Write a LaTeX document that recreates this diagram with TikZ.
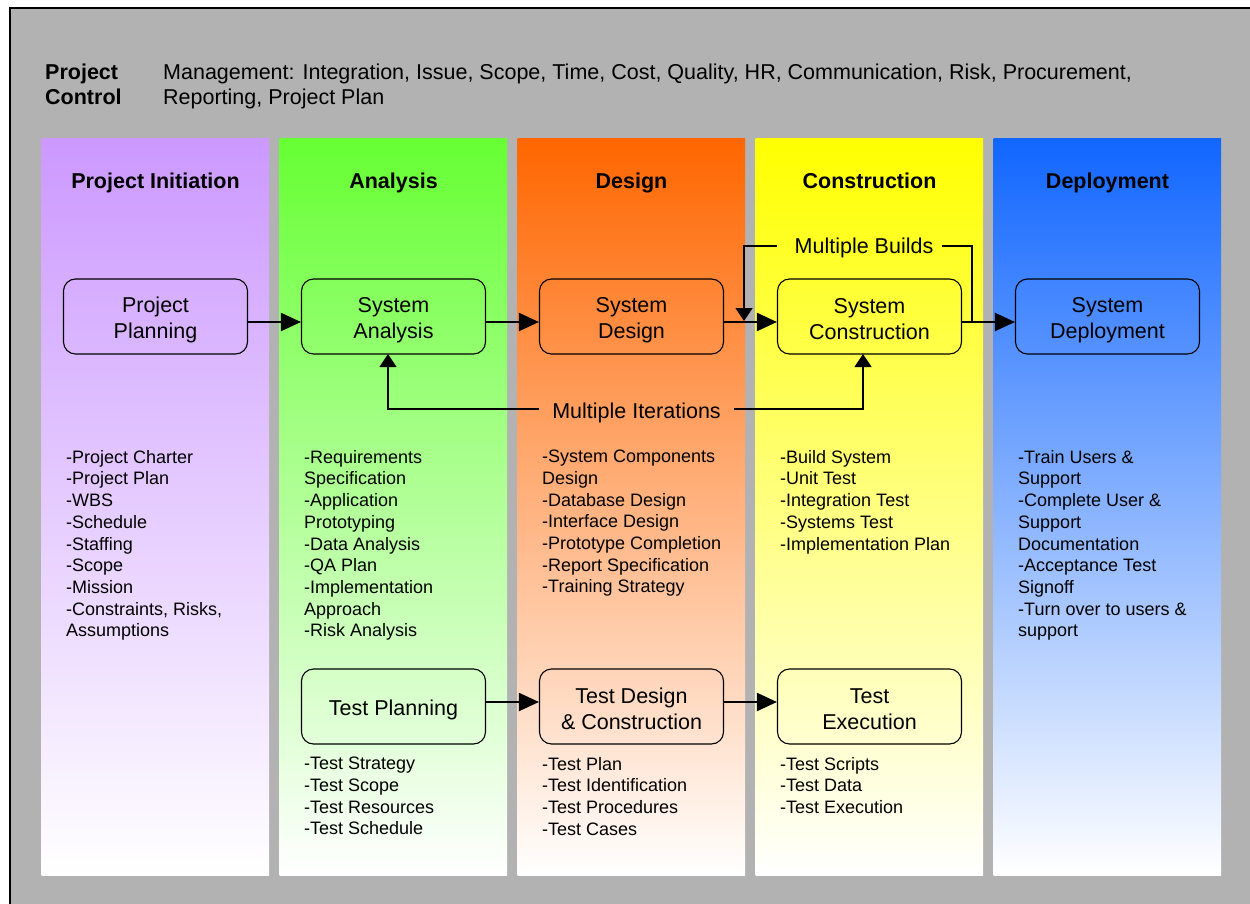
\documentclass[tikz,border=0pt]{standalone}
\usepackage{fontspec}
\setmainfont{Liberation Sans}
\usetikzlibrary{arrows.meta,calc}
\definecolor{bggray}{RGB}{178,178,178}
\definecolor{cpurple}{RGB}{204,153,255}
\definecolor{cgreen}{RGB}{102,255,51}
\definecolor{corange}{RGB}{255,102,0}
\definecolor{cyellow}{RGB}{255,255,0}
\definecolor{cblue}{RGB}{17,102,255}
\newcommand\bs{\rule[-1.8pt]{0pt}{24.2pt}}
\newcommand\boxfont{\fontsize{21.5}{26}\selectfont\lineskiplimit=-100pt\relax}
\begin{document}
\begin{tikzpicture}[x=1pt,y=-1pt,
  hdr/.style={font=\bfseries\fontsize{21.5}{24}\selectfont, inner sep=0, text height=15.5pt, text depth=0pt},
  box/.style={draw, line width=1.1pt, rounded corners=12pt, minimum width=184pt, minimum height=75pt, align=center, inner sep=0, font=\boxfont},
  lst/.style={anchor=north west, inner sep=0, align=left, font=\fontsize{18}{21.7}\selectfont},
  lbl/.style={font=\fontsize{21.5}{26}\selectfont, inner sep=0, text height=15.5pt, text depth=0pt},
  arr/.style={line width=2pt, -{Triangle[length=20pt,width=18pt]}},
  arrs/.style={line width=1.3pt, -{Triangle[length=13pt,width=17pt]}},
  con/.style={line width=1.3pt}]
\useasboundingbox (0,0) rectangle (1250,904);
\fill[bggray] (10,8) rectangle (1250,904);
\draw[line width=1.5pt] (10,904) -- (10,8) -- (1250,8);
% columns
\shade[top color=cpurple, bottom color=white] (41.5,138.5) rectangle (269,875);
\shade[top color=cgreen, bottom color=white] (279.5,138.5) rectangle (507,875);
\shade[top color=corange, bottom color=white] (517.5,138.5) rectangle (745,875);
\shade[top color=cyellow, bottom color=white] (755.5,138.5) rectangle (983,875);
\shade[top color=cblue, bottom color=white] (993.5,138.5) rectangle (1221,875);
% project control
\node[lst, font=\bfseries\fontsize{21.5}{25}\selectfont] (pc) at (45,64) {Project\\Control};
\node[lst, font=\fontsize{21.5}{25}\selectfont] (pcm) at (163,64) {Management: Integration, Issue, Scope, Time, Cost, Quality, HR, Communication, Risk, Procurement,\\Reporting, Project Plan};
% headers
\node[hdr] (h1) at (155.5,181) {Project Initiation};
\node[hdr] (h2) at (393.5,181) {Analysis};
\node[hdr] (h3) at (631.5,181) {Design};
\node[hdr] (h4) at (869.5,181) {Construction};
\node[hdr] (h5) at (1107.5,181) {Deployment};
% main boxes
\node[box] (pp) at (155.5,316.5) {Project\bs\\Planning\bs};
\node[box] (sa) at (393.5,316.5) {System\bs\\Analysis\bs};
\node[box] (sd) at (631.5,316.5) {System\bs\\Design\bs};
\node[box] (sc) at (869.5,316.5) {System\bs\\Construction\bs};
\node[box] (sdp) at (1107.5,316.5) {System\bs\\Deployment\bs};
% test boxes
\node[box] (tp) at (393.5,706.5) {Test Planning\bs};
\node[box] (td) at (631.5,706.5) {Test Design\bs\\\& Construction\bs};
\node[box] (te) at (869.5,706.5) {Test\bs\\Execution\bs};
% main arrows
\coordinate (ya) at (0,322);
\draw[arr] (pp.east |- ya) -- (sa.west |- ya);
\draw[arr] (sa.east |- ya) -- (sd.west |- ya);
\draw[arr] (sd.east |- ya) -- (sc.west |- ya);
\draw[arr] (sc.east |- ya) -- (sdp.west |- ya);
\coordinate (yt) at (0,702);
\draw[arr] (tp.east |- yt) -- (td.west |- yt);
\draw[arr] (td.east |- yt) -- (te.west |- yt);
% multiple builds
\node[lbl] (mb) at (864,246) {Multiple Builds};
\coordinate (bl) at (744,321);
\coordinate (br) at (972,322);
\draw[arrs] ([xshift=-18pt]mb.west) -| (bl);
\draw[con] ([xshift=8pt]mb.east) -| (br);
% multiple iterations
\node[lbl, inner xsep=13pt, text height=19.5pt] (mi) at (636.5,409) {Multiple Iterations};
\coordinate (il) at (388,354);
\coordinate (ir) at (863,354);
\draw[arrs] (mi.west) -| (il);
\draw[arrs] (mi.east) -| (ir);
% lists
\node[lst] (l1) at (66,450) {-Project Charter\\-Project Plan\\-WBS\\-Schedule\\-Staffing\\-Scope\\-Mission\\-Constraints, Risks,\\Assumptions};
\node[lst] (l2) at (304,450) {-Requirements\\Specification\\-Application\\Prototyping\\-Data Analysis\\-QA Plan\\-Implementation\\Approach\\-Risk Analysis};
\node[lst] (l3) at (542,450) {-System Components\\Design\\-Database Design\\-Interface Design\\-Prototype Completion\\-Report Specification\\-Training Strategy};
\node[lst] (l4) at (780,450) {-Build System\\-Unit Test\\-Integration Test\\-Systems Test\\-Implementation Plan};
\node[lst] (l5) at (1018,450) {-Train Users \&\\Support\\-Complete User \&\\Support\\Documentation\\-Acceptance Test\\Signoff\\-Turn over to users \&\\support};
\node[lst] (t2) at (304,757) {-Test Strategy\\-Test Scope\\-Test Resources\\-Test Schedule};
\node[lst] (t3) at (542,757) {-Test Plan\\-Test Identification\\-Test Procedures\\-Test Cases};
\node[lst] (t4) at (780,757) {-Test Scripts\\-Test Data\\-Test Execution};
\end{tikzpicture}
\end{document}
